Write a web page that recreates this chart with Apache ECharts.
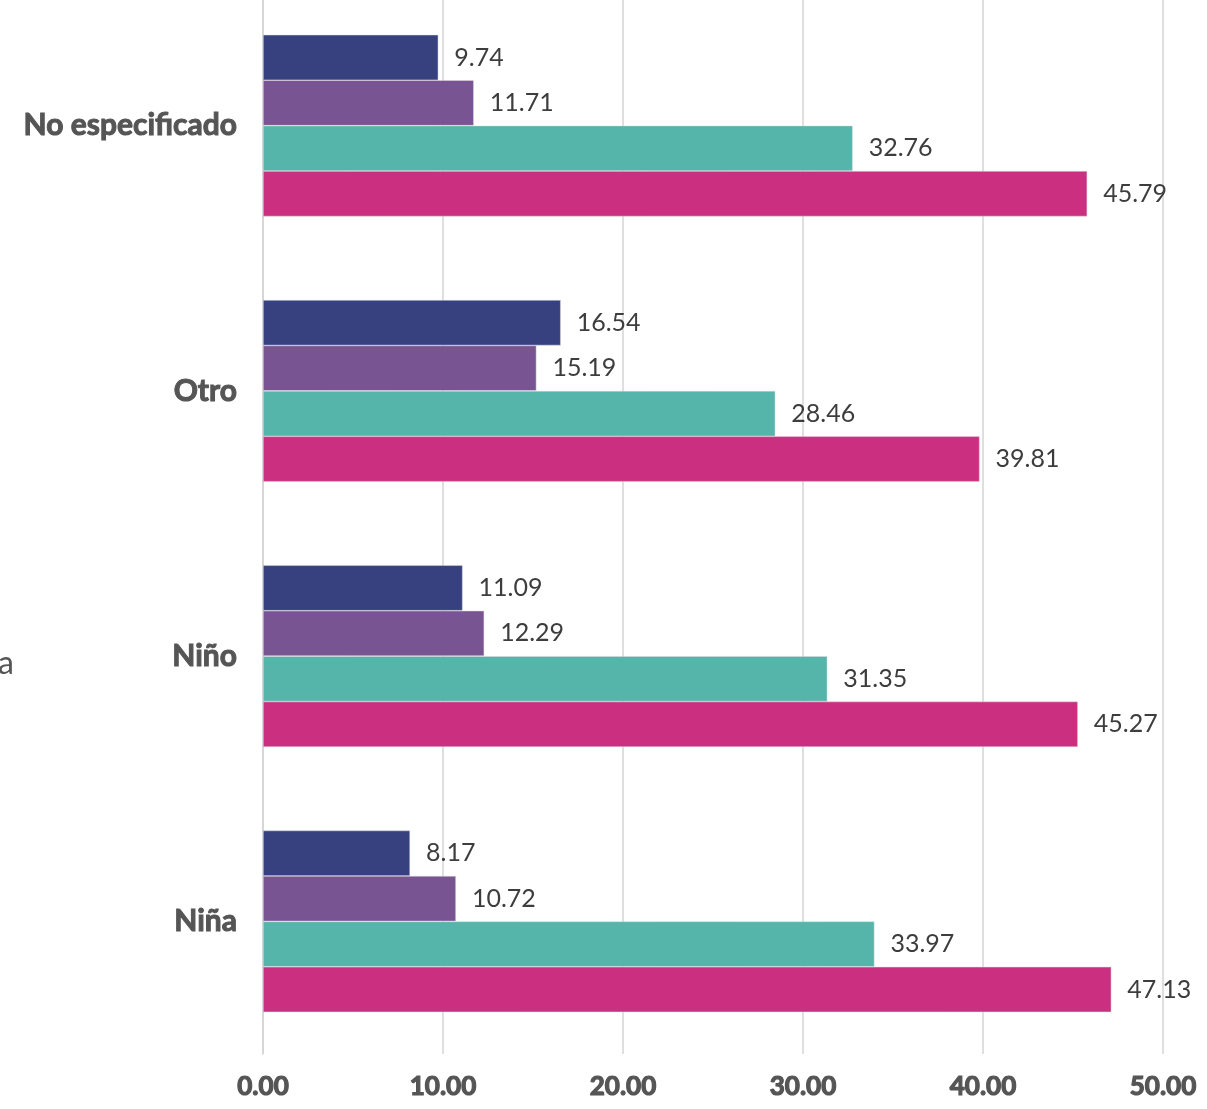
<!DOCTYPE html>
<html>
<head>
<meta charset="utf-8">
<script src="https://cdn.jsdelivr.net/npm/echarts@6/dist/echarts.min.js"></script>
<style>
html,body{margin:0;padding:0;background:#fff;overflow:hidden;}
#chart{width:1207px;height:1116px;margin-top:-7px;}
</style>
</head>
<body>
<div id="chart"></div>
<script>
const categories = ['Niña', 'Niño', 'Otro', 'No especificado'];
const seriesNames = ['Serie 1', 'Serie 2', 'Serie 3', 'Serie 4'];
const serie1 = [8.17, 11.09, 16.54, 9.74];
const serie2 = [10.72, 12.29, 15.19, 11.71];
const serie3 = [33.97, 31.35, 28.46, 32.76];
const serie4 = [47.13, 45.27, 39.81, 45.79];
const colors = ['#37417f', '#785493', '#56b5aa', '#cb3080'];
const xTicks = [0, 10, 20, 30, 40, 50];

const allValues = [serie1, serie2, serie3, serie4];

const chart = echarts.init(document.getElementById('chart'));
chart.setOption({
  backgroundColor: '#ffffff',
  animation: false,
  grid: { left: 263, right: 44, top: 0, bottom: 55 },
  xAxis: {
    type: 'value',
    min: xTicks[0],
    max: xTicks[xTicks.length - 1],
    interval: 10,
    axisLine: { show: false },
    axisTick: { show: false },
    splitLine: { show: true, lineStyle: { color: '#d4d4d4', width: 1.5 } },
    axisLabel: {
      margin: 20,
      color: '#555555',
      fontFamily: 'Lato',
      fontWeight: 'bold',
      fontSize: 26,
      textBorderColor: '#555555',
      textBorderWidth: 1.2,
      formatter: v => v.toFixed(2)
    }
  },
  yAxis: {
    type: 'category',
    data: categories,
    axisLine: { show: true, lineStyle: { color: '#d4d4d4', width: 1.5 } },
    axisTick: { show: false },
    axisLabel: {
      margin: 26,
      color: '#555555',
      fontFamily: 'Lato',
      fontWeight: 'bold',
      fontSize: 30,
      textBorderColor: '#555555',
      textBorderWidth: 1,
    }
  },
  graphic: [{
    type: 'text', left: -2, top: 655,
    style: { text: 'a', font: '32px Lato', fill: '#555555' }
  }],
  series: allValues.map((vals, i) => ({
    name: seriesNames[i],
    type: 'bar',
    data: vals,
    barGap: '0%',
    barCategoryGap: '31.5%',
    itemStyle: { color: colors[i], borderColor: 'rgba(220,220,220,0.8)', borderWidth: 0.6 },
    label: {
      show: true,
      position: 'right',
      distance: 16,
      color: '#3d3d3d',
      fontFamily: 'Lato',
      fontSize: 25,
      formatter: p => String(p.value)
    }
  }))
});
</script>
</body>
</html>
